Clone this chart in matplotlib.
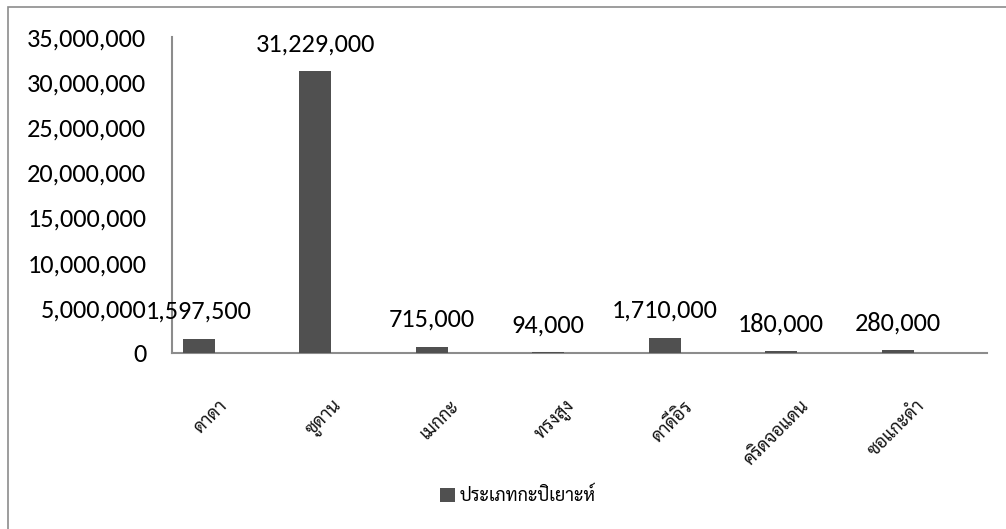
import matplotlib
matplotlib.use("Agg")
import matplotlib.pyplot as plt
from matplotlib.patches import Rectangle
from matplotlib.ticker import FuncFormatter
from matplotlib.font_manager import FontProperties

categories = ["ดาดา", "ซูดาน", "เมกกะ", "ทรงสูง", "ดาดีอิร", "คริดจอแดน", "ซอแกะดำ"]
values = [1597500, 31229000, 715000, 94000, 1710000, 180000, 280000]
series_name = "ประเภทกะปิเยาะห์"
yticks = [0, 5000000, 10000000, 15000000, 20000000, 25000000, 30000000, 35000000]

NUM = ['Carlito', 'Lato', 'DejaVu Sans']
THAI = ['Sarabun', 'Noto Sans Thai Looped', 'Noto Sans Thai', 'DejaVu Sans']
W, H = 1006, 529
BAR = '#505050'
AXC = '#8c8c8c'

fig = plt.figure(figsize=(W / 100, H / 100), dpi=100)
fig.patches.append(Rectangle((8 / W, -0.1), 1.2, (1 - 7 / H) + 0.1,
                             transform=fig.transFigure, fill=False,
                             edgecolor=AXC, lw=1.2))

ax = fig.add_axes([172 / W, 1 - 353 / H, (987 - 172) / W, (353 - 37) / H])
x = list(range(len(categories)))
ax.bar(x, values, width=32 / 116.4, color=BAR, label=series_name, zorder=3)
ax.set_xlim(-0.232, len(categories) - 0.232)
ax.set_ylim(0, 35000000)
ax.set_yticks(yticks)
ax.yaxis.set_major_formatter(FuncFormatter(lambda v, p: f"{int(v):,}"))
for s in ['top', 'right']:
    ax.spines[s].set_visible(False)
for s in ['left', 'bottom']:
    ax.spines[s].set_color(AXC)
    ax.spines[s].set_linewidth(1.5)
ax.tick_params(axis='y', length=0, pad=18.5)
ax.tick_params(axis='x', length=0, pad=32)
for lab in ax.get_yticklabels():
    lab.set_fontfamily(NUM)
    lab.set_fontsize(19)
ax.set_xticks([i + 0.268 for i in x])
ax.set_xticklabels(categories, rotation=45, ha='right', fontfamily=THAI,
                   fontsize=13, color='#111111')

for i, v in zip(x, values):
    ax.annotate(f"{v:,}", (i, v), xytext=(0, 19.5), textcoords='offset points',
                ha='center', va='center', fontfamily=NUM, fontsize=19)

fig.legend(loc='center', bbox_to_anchor=(518 / W, 1 - 496 / H), frameon=False,
           handlelength=0.8, handleheight=0.8, handletextpad=0.3,
           prop=FontProperties(family=THAI, size=13))

fig.savefig("out.png", dpi=100)
